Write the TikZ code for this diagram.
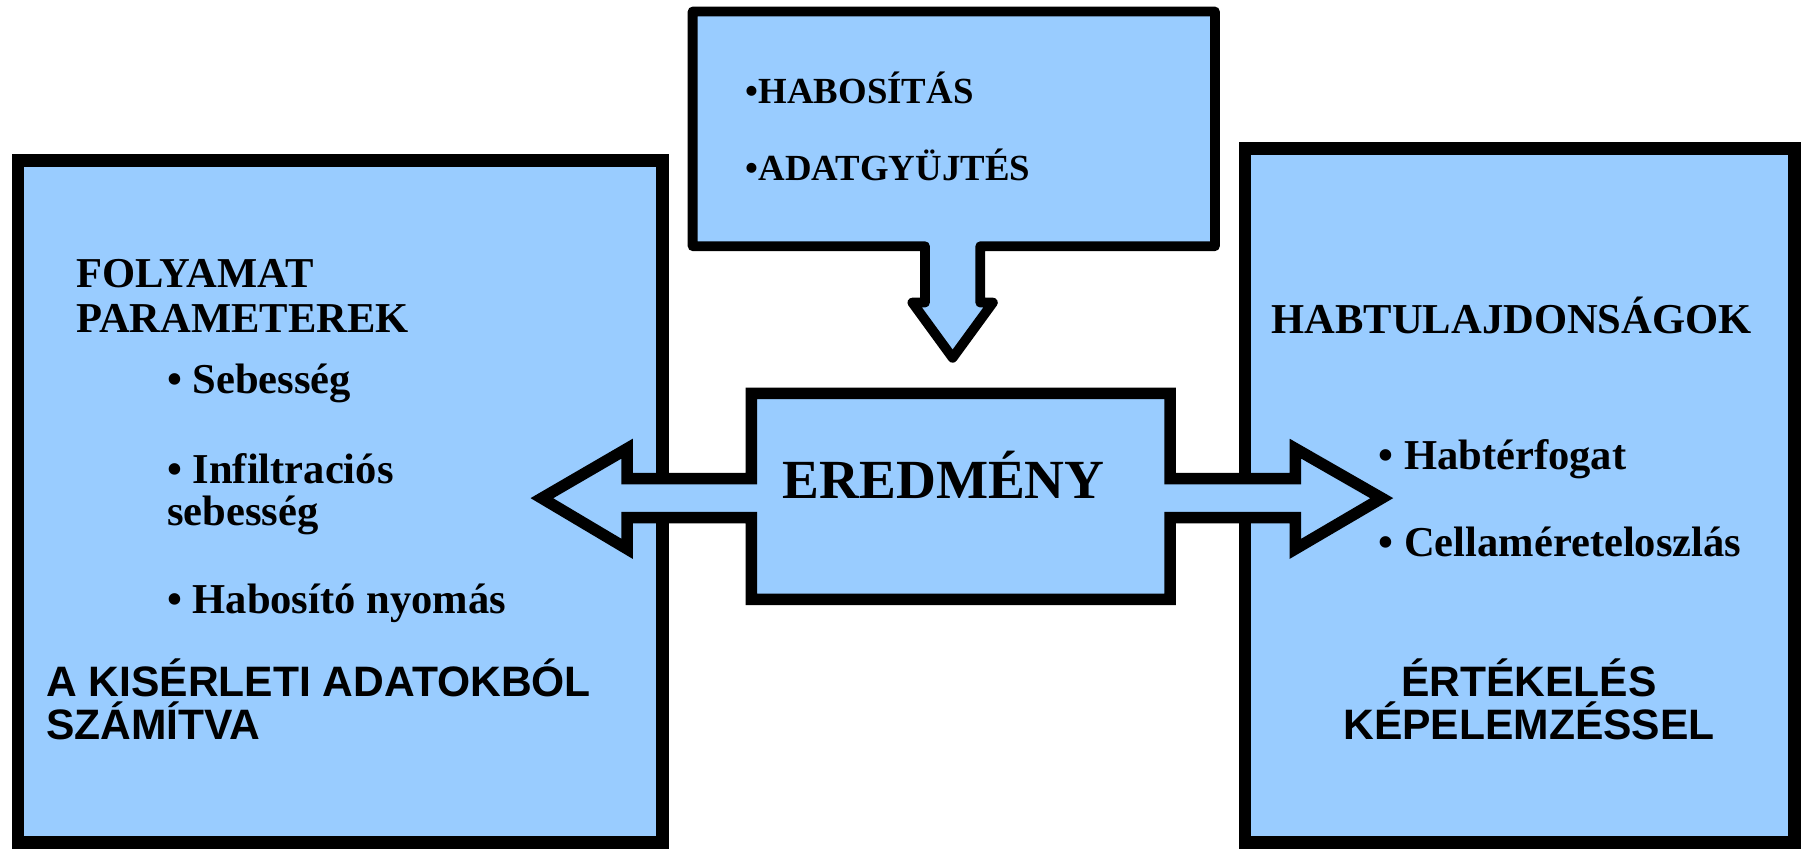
\documentclass[tikz,border=0pt]{standalone}
\usepackage{fontspec}
\setmainfont{Liberation Serif}
\newfontfamily\sansb{Liberation Sans}
\definecolor{boxblue}{HTML}{99CCFF}
\begin{document}
\begin{tikzpicture}[x=1pt,y=-1pt,
  bigpanel/.style={draw=black, fill=boxblue, line width=11pt, line join=miter, outer sep=0pt, inner sep=0pt, anchor=north west},
  midshape/.style={draw=black, fill=boxblue, line width=10pt, line join=miter, miter limit=20},
  callout/.style={draw=black, fill=boxblue, line width=8.5pt, line join=round},
  txt/.style={font=\bfseries\fontsize{37}{40}\selectfont, inner sep=0pt, anchor=base west},
  toptxt/.style={font=\bfseries\fontsize{32}{36}\selectfont, inner sep=0pt, anchor=base west},
  sanstxt/.style={font=\sansb\bfseries\fontsize{37}{40}\selectfont, inner sep=0pt},
  bigtxt/.style={font=\bfseries\fontsize{48}{52}\selectfont, inner sep=0pt, anchor=base west}]
\useasboundingbox (0,0) rectangle (1568,738);
% side panels
\node[bigpanel, minimum width=560.5pt, minimum height=592.5pt] (leftbox) at (15.5,139.5) {};
\node[bigpanel, minimum width=478pt, minimum height=603pt] (rightbox) at (1082,129) {};
% top callout with down arrow
\draw[callout] (602,10) -- (1056,10) -- (1056,214) -- (852,214) -- (852,263) -- (863,263)
  -- (828,311) -- (793,263) -- (804,263) -- (804,214) -- (602,214) -- cycle;
% central box with double arrow
\draw[midshape] (653,342) -- (1017,342) -- (1017,416) -- (1126,416) -- (1126,390) -- (1201,433)
  -- (1126,477) -- (1126,450) -- (1017,450) -- (1017,521) -- (653,521) -- (653,450)
  -- (545,450) -- (545,477) -- (471,433) -- (545,390) -- (545,416) -- (653,416) -- cycle;
% texts
\node[toptxt] (habositas) at (648,90) {•HABOSÍTÁS};
\node[toptxt] (adatgyujtes) at (648,157) {•ADATGYÜJTÉS};
\node[bigtxt] (eredmeny) at (680,433) {EREDMÉNY};
\node[txt] (folyamat) at (66,250) {FOLYAMAT};
\node[txt] (parameterek) at (66,289) {PARAMETEREK};
\node[txt] (sebesseg) at (145,342) {• Sebesség};
\node[txt] (infiltr) at (145,420) {• Infiltraciós};
\node[txt] (infiltr2) at (145,457) {sebesség};
\node[txt] (nyomas) at (145,533) {• Habosító nyomás};
\node[sanstxt, anchor=base west] (kiserleti) at (40,605) {A KISÉRLETI ADATOKBÓL};
\node[sanstxt, anchor=base west] (szamitva) at (40,643) {SZÁMÍTVA};
\node[txt] (habtul) at (1105,290) {HABTULAJDONSÁGOK};
\node[txt] (habterf) at (1198,408) {• Habtérfogat};
\node[txt] (cella) at (1198,484) {• Cellaméreteloszlás};
\node[sanstxt, anchor=base] (ertekeles) at (1329,605) {ÉRTÉKELÉS};
\node[sanstxt, anchor=base] (kepelem) at (1329,643) {KÉPELEMZÉSSEL};
\end{tikzpicture}
\end{document}
